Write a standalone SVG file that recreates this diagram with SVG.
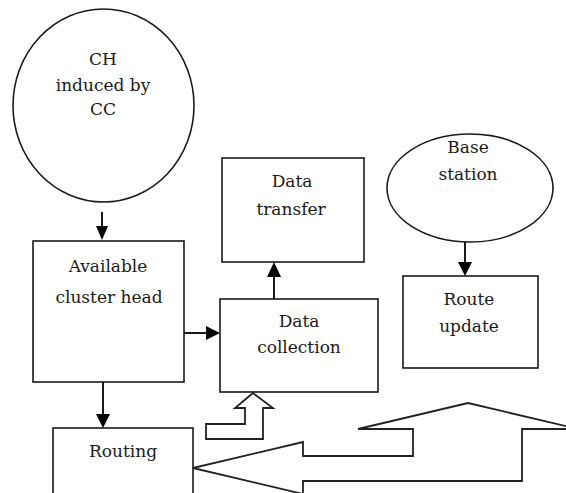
<svg xmlns="http://www.w3.org/2000/svg" width="566" height="493" viewBox="0 0 566 493">
<style>
.s{fill:#fff;stroke:#1a1a1a;stroke-width:1.6}
.t{font-family:"DejaVu Serif","Liberation Serif",serif;font-size:17px;fill:#1a1a1a;text-anchor:middle}
.c{stroke:#000;stroke-width:1.8;fill:none}
.h{fill:#000}
.b{fill:#fff;stroke:#222;stroke-width:1.8;stroke-linejoin:miter}
</style>
<rect width="566" height="493" fill="#fff"/>
<g id="ch">
<ellipse class="s" cx="103.5" cy="105.5" rx="90.5" ry="96.5"/>
<text class="t" x="103" y="65">CH</text>
<text class="t" x="103" y="91">induced by</text>
<text class="t" x="103" y="115">CC</text>
</g>
<g id="available">
<rect class="s" x="33" y="241" width="151" height="141"/>
<text class="t" x="108" y="272">Available</text>
<text class="t" x="109" y="303">cluster head</text>
</g>
<g id="transfer">
<rect class="s" x="222" y="158" width="142" height="104"/>
<text class="t" x="292" y="187">Data</text>
<text class="t" x="291" y="215">transfer</text>
</g>
<g id="collection">
<rect class="s" x="220" y="299" width="158" height="93"/>
<text class="t" x="299" y="327">Data</text>
<text class="t" x="299" y="353">collection</text>
</g>
<g id="base">
<ellipse class="s" cx="470" cy="188" rx="83" ry="54"/>
<text class="t" x="468" y="153">Base</text>
<text class="t" x="468" y="180">station</text>
</g>
<g id="route">
<rect class="s" x="403" y="276" width="135" height="92"/>
<text class="t" x="469" y="305">Route</text>
<text class="t" x="469" y="332">update</text>
</g>
<g id="routing">
<rect class="s" x="53" y="428" width="140" height="70"/>
<text class="t" x="123" y="457">Routing</text>
</g>
<g id="connectors">
<line class="c" x1="102" y1="212" x2="102" y2="228"/>
<polygon class="h" points="96,226 108,226 102,240"/>
<line class="c" x1="184" y1="333" x2="208" y2="333"/>
<polygon class="h" points="206,326 206,340 220,333"/>
<line class="c" x1="274" y1="299" x2="274" y2="275"/>
<polygon class="h" points="267,277 281,277 274,262"/>
<line class="c" x1="465" y1="242" x2="465" y2="264"/>
<polygon class="h" points="458,262 472,262 465,276"/>
<line class="c" x1="103" y1="382" x2="103" y2="416"/>
<polygon class="h" points="96,414 110,414 103,428"/>
<polygon class="b" points="253,393 273,408 263,408 263,439 206,439 206,424 245,424 245,408 235,408"/>
<polygon class="b" points="468,403 578,429 522,429 522,481 303,481 303,494 193,468 303,442 303,456 413,456 413,429 358,429"/>
</g>
</svg>
